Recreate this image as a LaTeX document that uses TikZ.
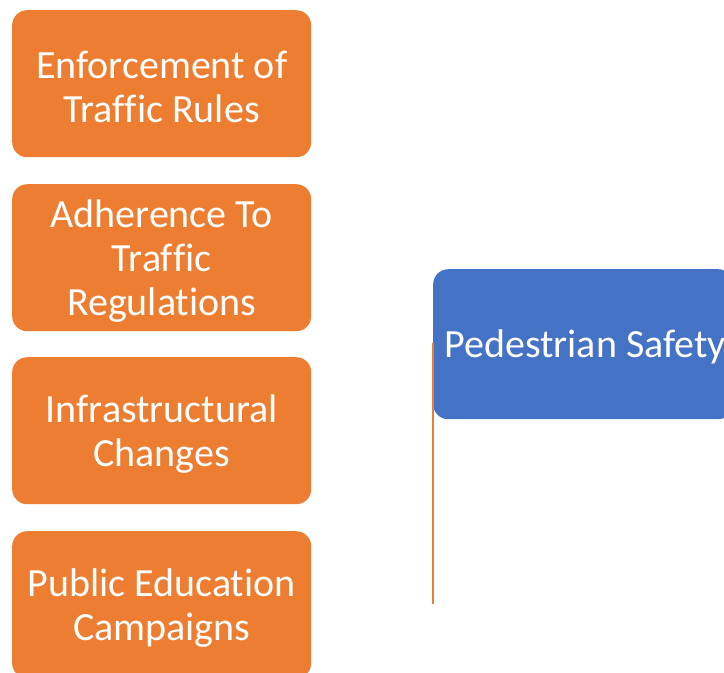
\documentclass[tikz,border=0pt]{standalone}
\usepackage{fontspec}
\setmainfont{Carlito}[RawFeature={-liga;-clig}]
\definecolor{orng}{HTML}{ED7D31}
\definecolor{blu}{HTML}{4472C4}
\newcommand{\nolig}{\kern0pt}
\begin{document}
\begin{tikzpicture}[x=1pt,y=-1pt,
  box/.style={rounded corners=15pt, minimum width=299pt, minimum height=147pt, inner sep=0pt, anchor=north west},
  obox/.style={box, fill=orng},
  bbox/.style={box, fill=blu, minimum width=300pt, minimum height=150pt},
  lbl/.style={text=white, align=center, inner sep=0pt, font=\fontsize{40}{44}\selectfont, yshift=-3pt}]
\useasboundingbox (0,0) rectangle (724,673);
\node[obox] (b1) at (12,10) {};
\node[obox] (b2) at (12,184) {};
\node[obox] (b3) at (12,357) {};
\node[obox] (b4) at (12,531) {};
\node[bbox] (ps) at (433,269) {};
\node[lbl] (t1) at (b1.center) {Enforcement of\\Traf\nolig f\nolig ic Rules};
\node[lbl] (t2) at (b2.center) {Adherence To\\Traf\nolig f\nolig ic\\Regulations};
\node[lbl] (t3) at (b3.center) {Infrastructural\\Changes};
\node[lbl] (t4) at (b4.center) {Public Education\\Campaigns};
\node[lbl, xshift=2pt] (t5) at (ps.center) {Pedestrian Safety};
\coordinate (ltop) at (433,343);
\coordinate (lbot) at (433,604);
\draw[orng, line width=2.5pt] (ltop) -- (lbot);
\end{tikzpicture}
\end{document}
